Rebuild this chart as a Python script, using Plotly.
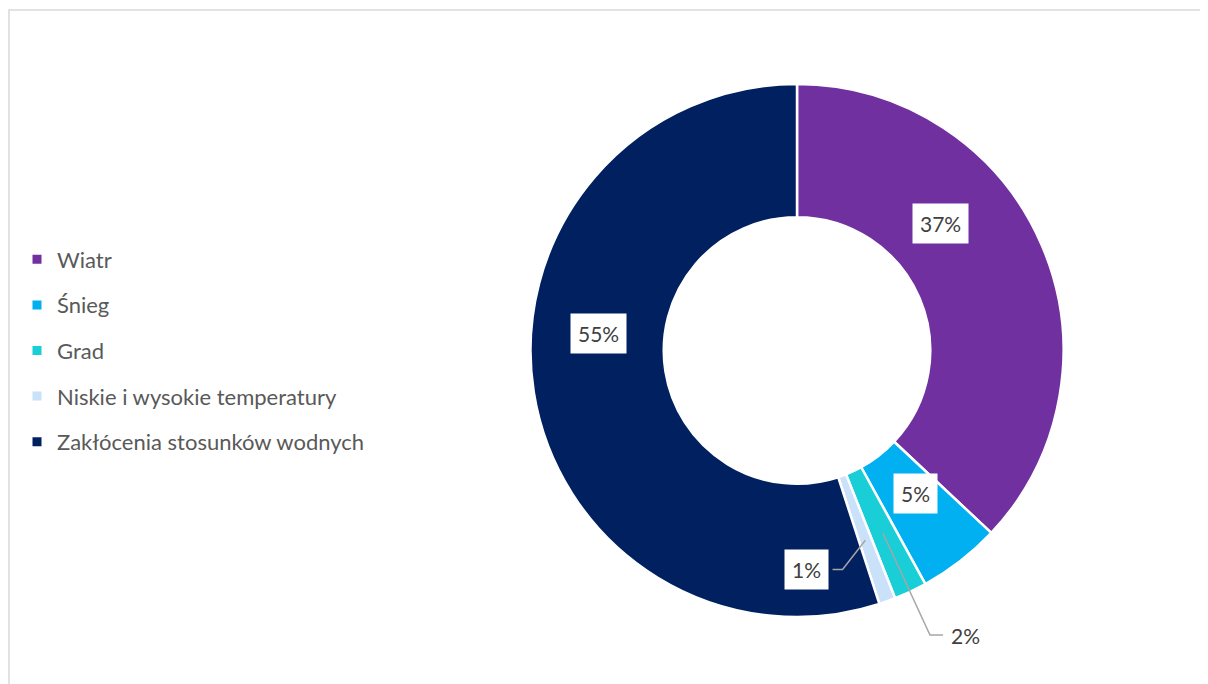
import math
import plotly.graph_objects as go

# dane
kategorie = ['Wiatr', 'Śnieg', 'Grad', 'Niskie i wysokie temperatury', 'Zakłócenia stosunków wodnych']
udzialy = [37, 5, 2, 1, 55]
kolory = ['#7030A0', '#00B0F0', '#19CED6', '#C9E1F9', '#002060']

W, H = 1208, 684
OFF = 8  # margines strony w przegladarce
CX, CY, R = 797, 350.5, 266.5
HOLE = 0.5

# ustawienia etykiet: (przesuniecie kata, promien jako ulamek R, linia odniesienia)
etykiety_styl = {
    'Wiatr': (-18.3, 0.719, False),
    'Śnieg': (-1.9, 0.695, False),
    'Grad': (-5.5, 1.242, True),
    'Niskie i wysokie temperatury': (17.3, 0.8225, True),
    'Zakłócenia stosunków wodnych': (13.9, 0.746, False),
}


def do_papieru(px, py):
    return (px - OFF) / W, 1 - (py - OFF) / H


def punkt(kat, r):
    rad = math.radians(kat)
    return CX + r * math.sin(rad), CY - r * math.cos(rad)


fig = go.Figure()

x0, y0 = do_papieru(CX - R, CY + R)
x1, y1 = do_papieru(CX + R, CY - R)
fig.add_trace(go.Pie(
    labels=kategorie, values=udzialy, hole=HOLE, sort=False,
    direction='clockwise', rotation=0,
    marker=dict(colors=kolory, line=dict(color='white', width=2.5)),
    textinfo='none', hoverinfo='label+percent', showlegend=False,
    domain=dict(x=[x0, x1], y=[y0, y1]),
))

# legenda z pomocniczych serii
for k, c in zip(kategorie, kolory):
    fig.add_trace(go.Scatter(
        x=[None], y=[None], mode='markers', name=k, legendgroup=k,
        marker=dict(symbol='square', size=9, color=c),
    ))

suma = sum(udzialy)
annotations = []
shapes = []
kum = 0
for k, v in zip(kategorie, udzialy):
    srodek = 360 * (kum + v / 2) / suma
    kum += v
    dk, rf, linia = etykiety_styl[k]
    lx, ly = punkt(srodek + dk, rf * R)
    tekst = f'{round(100 * v / suma)}%'
    ax, ay = do_papieru(lx, ly)
    annotations.append(dict(
        x=ax, y=ay, xref='paper', yref='paper', text=tekst, showarrow=False,
        xanchor='center', yanchor='middle',
        font=dict(family='Lato', size=21, color='#404040'),
        bgcolor='white', borderpad=7,
    ))
    if linia:
        sx, sy = punkt(srodek, R * 0.757)
        if lx > sx:
            ex = lx - 23
            kx = ex - 13
        else:
            ex = lx + 26
            kx = ex + 10
        pts = [do_papieru(sx, sy), do_papieru(kx, ly), do_papieru(ex, ly)]
        path = 'M {} {} L {} {} L {} {}'.format(*[c for p in pts for c in p])
        shapes.append(dict(type='path', path=path, xref='paper', yref='paper',
                           line=dict(color='#A6A6A6', width=1.5)))

# ramka wykresu
bx, by = do_papieru(9, 10)
shapes.append(dict(type='rect', xref='paper', yref='paper',
                   x0=bx, x1=1.05, y0=-0.05, y1=by,
                   line=dict(color='#D9D9D9', width=1.5), layer='below'))

lx_leg, ly_leg = do_papieru(17, 350.5)
fig.update_layout(
    width=W, height=H,
    margin=dict(l=0, r=0, t=0, b=0),
    paper_bgcolor='white', plot_bgcolor='white',
    xaxis=dict(visible=False), yaxis=dict(visible=False),
    showlegend=True,
    legend=dict(
        x=lx_leg, y=ly_leg, xanchor='left', yanchor='middle',
        font=dict(family='Lato', size=22, color='#595959'),
        tracegroupgap=14, itemclick=False,
    ),
    annotations=annotations,
    shapes=shapes,
)

fig.write_html("out.html")
